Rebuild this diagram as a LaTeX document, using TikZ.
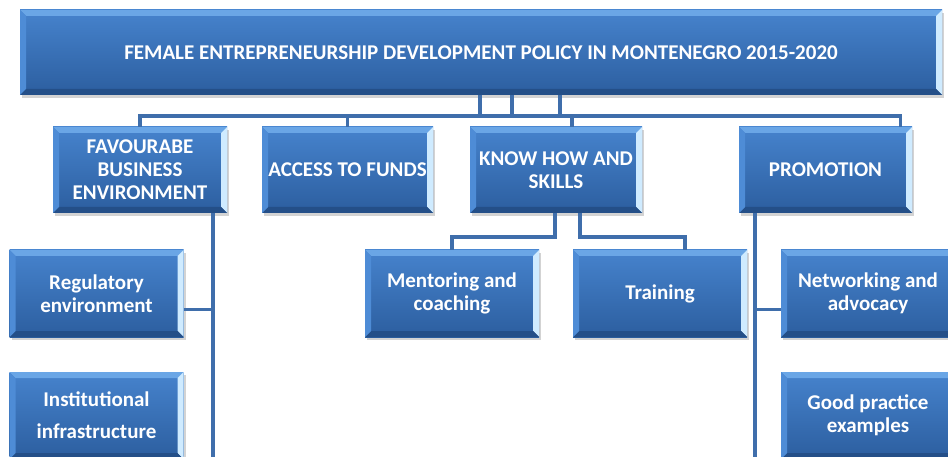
\documentclass[tikz,border=0pt]{standalone}
\usepackage{fontspec}
\setmainfont{Carlito}
\usetikzlibrary{shadows}

\definecolor{boxhi}{HTML}{4683CD}
\definecolor{boxlo}{HTML}{2C5E9F}
\definecolor{bvtop}{HTML}{6AA6E6}
\definecolor{bvright}{HTML}{CFEBFF}
\definecolor{bvbot}{HTML}{244F88}
\definecolor{bvleft}{HTML}{4E8CD6}
\definecolor{linkblue}{HTML}{3F6EAB}

% bevel width of the boxes
\newcommand{\bvw}{6pt}

\tikzset{
  pbox/.style={
    minimum width=174pt, minimum height=86pt, inner sep=0pt,
    align=center, text=white,
    font=\bfseries\fontsize{21}{23}\selectfont,
    top color=boxhi, bottom color=boxlo,
    drop shadow={shadow xshift=2pt, shadow yshift=-3pt, opacity=.35},
    path picture={
      % top, right, bottom and left bevel
      \fill[bvtop] (path picture bounding box.north west) -- (path picture bounding box.north east)
        -- ([xshift=-\bvw,yshift=-\bvw]path picture bounding box.north east)
        -- ([xshift=\bvw,yshift=-\bvw]path picture bounding box.north west) -- cycle;
      \fill[bvright] (path picture bounding box.north east) -- (path picture bounding box.south east)
        -- ([xshift=-\bvw,yshift=\bvw]path picture bounding box.south east)
        -- ([xshift=-\bvw,yshift=-\bvw]path picture bounding box.north east) -- cycle;
      \fill[bvbot] (path picture bounding box.south west) -- (path picture bounding box.south east)
        -- ([xshift=-\bvw,yshift=\bvw]path picture bounding box.south east)
        -- ([xshift=\bvw,yshift=\bvw]path picture bounding box.south west) -- cycle;
      \fill[bvleft] (path picture bounding box.north west) -- (path picture bounding box.south west)
        -- ([xshift=\bvw,yshift=\bvw]path picture bounding box.south west)
        -- ([xshift=\bvw,yshift=-\bvw]path picture bounding box.north west) -- cycle;
    }
  },
  lnk/.style={linkblue, line width=3.5pt},
}

\begin{document}
\begin{tikzpicture}[x=1pt, y=-1pt]
  \useasboundingbox (0,0) rectangle (948,457);
  \clip (0,0) rectangle (948,457);

  % policy and its four pillars
  \node[pbox, minimum width=922pt, minimum height=85pt] (top) at (481,52.5)
    {FEMALE ENTREPRENEURSHIP DEVELOPMENT POLICY IN MONTENEGRO 2015-2020};
  \node[pbox, minimum width=174pt] (fav) at (140,170) {FAVOURABE\\BUSINESS\\ENVIRONMENT};
  \node[pbox, minimum width=171pt] (acc) at (347.5,170) {ACCESS TO FUNDS};
  \node[pbox, minimum width=172pt] (know) at (556,170) {KNOW HOW AND\\SKILLS};
  \node[pbox, minimum width=173pt] (promo) at (825.5,170) {PROMOTION};

  % measures
  \node[pbox, minimum height=87pt] (reg) at (96.5,293.5) {Regulatory\\environment};
  \node[pbox, minimum height=87pt, font=\bfseries\fontsize{21}{32}\selectfont] (inst) at (96.5,415.5)
    {Institutional\\infrastructure};
  \node[pbox, minimum height=87pt] (ment) at (452,293.5) {Mentoring and\\coaching};
  \node[pbox, minimum height=87pt] (train) at (660,293.5) {Training};
  \node[pbox, minimum height=87pt] (netw) at (868,293.5) {Networking and\\advocacy};
  \node[pbox, minimum height=87pt] (good) at (868,415.5) {Good practice\\examples};

  \coordinate (fend) at (213,460);
  \coordinate (pend) at (755,460);

  % connectors
  \draw[lnk] ([xshift=-1pt]top.south) |- ([yshift=11pt]fav.north) -- (fav.north);
  \draw[lnk] ([xshift=79pt]top.south) |- ([yshift=11pt]acc.north) -- (acc.north);
  \draw[lnk] ([xshift=31pt]top.south) |- ([xshift=16pt,yshift=11pt]know.north) -- ([xshift=16pt]know.north);
  \draw[lnk] ([xshift=79pt]top.south) |- ([xshift=75pt,yshift=11pt]promo.north) -- ([xshift=75pt]promo.north);
  \draw[lnk] ([xshift=-1pt]know.south) |- ([yshift=13pt]ment.north) -- (ment.north);
  \draw[lnk] ([xshift=24pt]know.south) |- ([xshift=25pt,yshift=13pt]train.north) -- ([xshift=25pt]train.north);
  \draw[lnk] ([xshift=73pt]fav.south) -- (fend);
  \draw[lnk] ([yshift=-16pt]reg.east) -| ([xshift=73pt]fav.south);
  \draw[lnk] ([xshift=-70.5pt]promo.south) -- (pend);
  \draw[lnk] ([yshift=-16pt]netw.west) -| ([xshift=-70.5pt]promo.south);
\end{tikzpicture}
\end{document}
